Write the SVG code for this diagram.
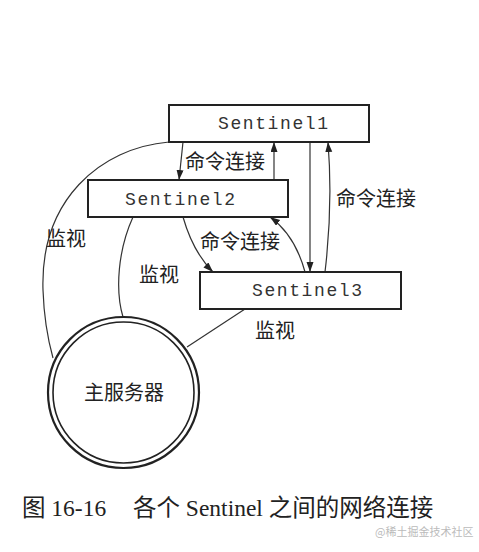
<svg xmlns="http://www.w3.org/2000/svg" width="479" height="552" viewBox="0 0 479 552">
<style>
.box{fill:#fff;stroke:#222;stroke-width:2}
.mono{font-family:"Liberation Mono","DejaVu Sans Mono",monospace;font-size:18px;letter-spacing:1.6px;fill:#333}
.cn{font-family:"Noto Sans CJK SC",sans-serif;font-size:20px;fill:#222}
.ln{fill:none;stroke:#333;stroke-width:1.2}
.cap{font-family:"Liberation Serif","Noto Sans CJK SC",serif;font-size:23.5px;fill:#222}
</style>
<defs>
<marker id="ah" markerUnits="userSpaceOnUse" markerWidth="11" markerHeight="8" refX="10" refY="3.5" orient="auto">
<path d="M0,0 L10,3.5 L0,7 z" fill="#222"/>
</marker>
</defs>
<rect width="479" height="552" fill="#fff"/>
<g id="connectors">
<path class="ln" d="M169,142 C100,148 40,200 43,290 C44,320 48,340 53,358"/>
<path class="ln" d="M133,217 C118,250 115,290 123,317"/>
<path class="ln" d="M245,309 L187,347"/>
<path class="ln" d="M183,142 L179,180" marker-end="url(#ah)"/>
<path class="ln" d="M274,180 L274,142" marker-end="url(#ah)"/>
<path class="ln" d="M310,142 L310,272" marker-end="url(#ah)"/>
<path class="ln" d="M325,272 Q333,205 328,142" marker-end="url(#ah)"/>
<path class="ln" d="M183,217 Q193,252 213,272" marker-end="url(#ah)"/>
<path class="ln" d="M305,272 Q295,235 270,217" marker-end="url(#ah)"/>
<text class="cn" x="185" y="169">命令连接</text>
<text class="cn" x="336" y="206">命令连接</text>
<text class="cn" x="200" y="249">命令连接</text>
<text class="cn" x="46" y="246">监视</text>
<text class="cn" x="139" y="282">监视</text>
<text class="cn" x="255" y="338">监视</text>
</g>
<g id="sentinel1">
<rect class="box" x="169" y="105" width="200" height="37"/>
<text class="mono" x="218" y="129">Sentinel1</text>
</g>
<g id="sentinel2">
<rect class="box" x="88" y="180" width="200" height="37"/>
<text class="mono" x="125" y="205">Sentinel2</text>
</g>
<g id="sentinel3">
<rect class="box" x="200" y="272" width="201" height="37"/>
<text class="mono" x="252" y="296">Sentinel3</text>
</g>
<g id="master">
<circle cx="123.5" cy="392.5" r="75.5" fill="#fff" stroke="#222" stroke-width="2.2"/>
<circle cx="123.5" cy="392.5" r="70.5" fill="none" stroke="#222" stroke-width="1.6"/>
<text class="cn" x="124" y="400" font-size="21" text-anchor="middle">主服务器</text>
</g>
<g id="caption">
<text class="cap" x="22" y="516">图 16-16</text>
<text class="cap" x="133" y="516">各个 Sentinel 之间的网络连接</text>
<text x="375" y="536" font-family="Noto Sans CJK SC,sans-serif" font-size="11" fill="#bbb">@稀土掘金技术社区</text>
</g>
</svg>
